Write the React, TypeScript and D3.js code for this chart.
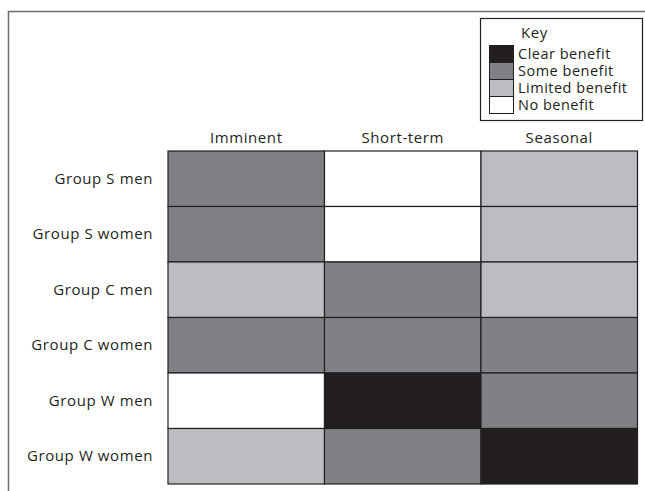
import React from "react";
import * as d3 from "d3";

const groups = ["Group S men", "Group S women", "Group C men", "Group C women", "Group W men", "Group W women"];
const horizons = ["Imminent", "Short-term", "Seasonal"];
const levels = ["Clear benefit", "Some benefit", "Limited benefit", "No benefit"];
const levelColors = ["#231f20", "#808184", "#bcbdc0", "#ffffff"];
// benefit level per group, per horizon (Imminent, Short-term, Seasonal)
const imminent = ["Some benefit", "Some benefit", "Limited benefit", "Some benefit", "No benefit", "Limited benefit"];
const shortTerm = ["No benefit", "No benefit", "Some benefit", "Some benefit", "Clear benefit", "Some benefit"];
const seasonal = ["Limited benefit", "Limited benefit", "Limited benefit", "Some benefit", "Some benefit", "Clear benefit"];

const W = 645;
const H = 491;
const FONT = "'Open Sans', sans-serif";

export default function App() {
  const x = d3.scaleBand<string>().domain(horizons).range([168, 637.5]);
  const y = d3.scaleBand<string>().domain(groups).range([151, 484]);
  const color = d3.scaleOrdinal<string, string>().domain(levels).range(levelColors);
  const series = [imminent, shortTerm, seasonal];
  const cells: { g: string; h: string; v: string }[] = [];
  groups.forEach((g, i) => horizons.forEach((h, j) => cells.push({ g, h, v: series[j][i] })));

  const ly = d3.scaleBand<string>().domain(levels).range([45.5, 113.5]);

  return (
    <svg width={W} height={H} style={{ position: "absolute", left: 0, top: 0 }}>
      <rect x={0} y={0} width={W} height={H} fill="#fff" />
      <path d={`M8.5,${H} V11.5 H${W}`} fill="none" stroke="#6d6e71" strokeWidth={1.5} />
      {cells.map((c, k) => (
        <rect key={k} x={x(c.h)} y={y(c.g)} width={x.bandwidth()} height={y.bandwidth()}
          fill={color(c.v)} stroke="#231f20" strokeWidth={1.2} />
      ))}
      {horizons.map((h) => (
        <text key={h} x={(x(h) as number) + x.bandwidth() / 2} y={143} textAnchor="middle"
          fontFamily={FONT} fontSize={15} letterSpacing={0.6} fill="#231f20">{h}</text>
      ))}
      {groups.map((g) => (
        <text key={g} x={153} y={(y(g) as number) + y.bandwidth() / 2 + 5} textAnchor="end"
          fontFamily={FONT} fontSize={15} letterSpacing={0.6} fill="#231f20">{g}</text>
      ))}
      <rect x={480.5} y={18.5} width={162} height={102} fill="#fff" stroke="#231f20" strokeWidth={1.2} />
      <text x={521} y={38} fontFamily={FONT} fontSize={15} letterSpacing={0.6} fill="#231f20">Key</text>
      {levels.map((l) => (
        <g key={l}>
          <rect x={489.5} y={ly(l)} width={24} height={ly.bandwidth()} fill={color(l)} stroke="#231f20" strokeWidth={1} />
          <text x={518} y={(ly(l) as number) + ly.bandwidth() / 2 + 5} fontFamily={FONT} fontSize={14.5} letterSpacing={0.5} fill="#231f20">{l}</text>
        </g>
      ))}
    </svg>
  );
}
